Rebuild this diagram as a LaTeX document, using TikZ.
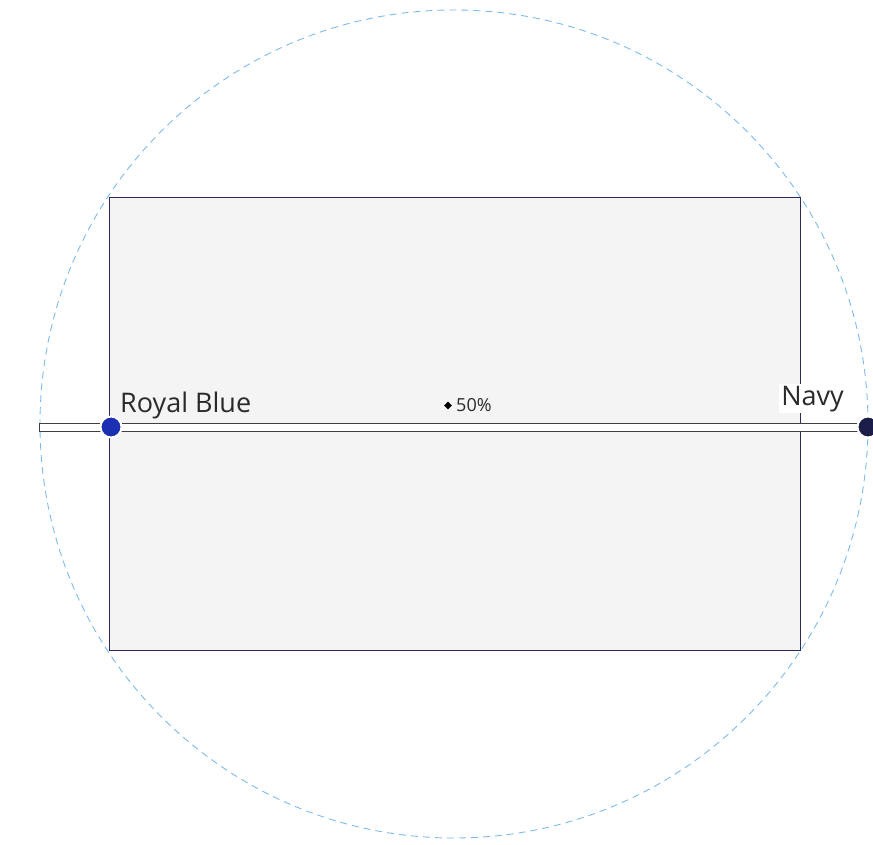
\documentclass[tikz,border=0pt]{standalone}
\usepackage{fontspec}
\setmainfont{Open Sans}
\usetikzlibrary{shapes.geometric}
\definecolor{ringblue}{HTML}{7DBBEF}
\definecolor{rectfill}{HTML}{F4F4F4}
\definecolor{rectline}{HTML}{2B2A5C}
\definecolor{royal}{HTML}{1A2FB2}
\definecolor{navy}{HTML}{1C1E4A}
\definecolor{bartext}{HTML}{2A2A2A}
\tikzset{
  ring/.style={draw=ringblue, line width=0.9pt, dash pattern=on 7pt off 5pt},
  panel/.style={draw=rectline, fill=rectfill, line width=0.9pt},
  bar/.style={draw=bartext!90, fill=white, line width=1pt},
  stop/.style={circle, inner sep=0pt, minimum size=21pt, draw=white, line width=2pt},
  lbl/.style={font=\fontsize{27}{30}\selectfont, text=bartext, inner sep=1pt},
}
\begin{document}
\begin{tikzpicture}[x=1pt,y=-1pt]
\useasboundingbox (0,0) rectangle (873,845);
\fill[white] (0,0) rectangle (873,845);
\node[ring, circle, minimum size=828pt, inner sep=0pt] (ring) at (454,424) {};
\node[panel, minimum width=691pt, minimum height=453pt, inner sep=0pt, anchor=north west] (panel) at (109,197) {};
\draw[bar] (39,423) rectangle (866,431);
\node[stop, fill=royal] (rb) at (111,427) {};
\node[stop, fill=navy] (nv) at (868,427) {};
\node[lbl, anchor=base west] (rbl) at (119,412) {Royal Blue};
\node[lbl, anchor=base east, fill=white, inner sep=2pt] (nvl) at (846,405) {Navy};
\node[font=\fontsize{18}{20}\selectfont, text=bartext, anchor=base west, inner sep=0pt] (pct) at (456,411.5) {50\%};
\node[diamond, fill=black, minimum size=8pt, inner sep=0pt] (dm) at (448,405.5) {};
\end{tikzpicture}
\end{document}
